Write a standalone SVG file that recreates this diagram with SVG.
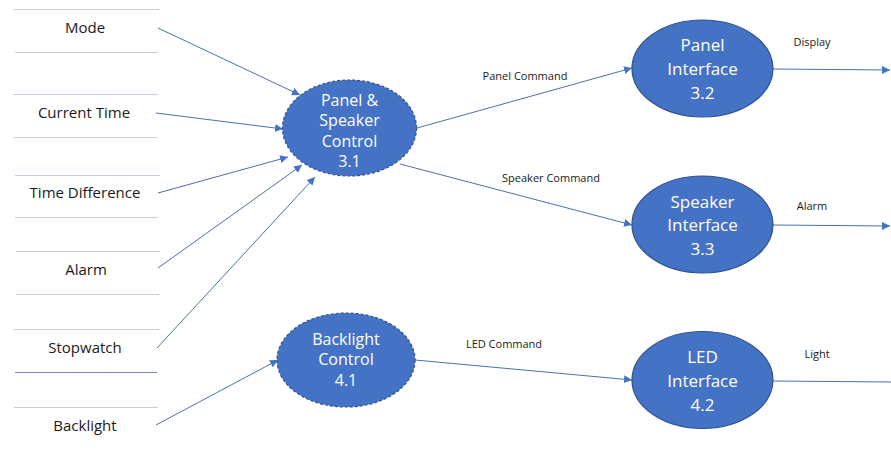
<svg xmlns="http://www.w3.org/2000/svg" width="891" height="450" viewBox="0 0 891 450">
  <style>
    .store { stroke: #c5cfe2; stroke-width: 1.2; }
    .store-dark { stroke: #6f8cc4; stroke-width: 1.2; }
    .src { font-family: "Open Sans", "Liberation Sans", sans-serif; font-size: 15px; fill: #1a1a1a; text-anchor: middle; }
    .proc { fill: #4472c4; stroke: #2f528f; stroke-width: 1.2; }
    .proc-dash { fill: #4472c4; stroke: #2f528f; stroke-width: 1.2; stroke-dasharray: 3 2; }
    .ptext { font-family: "Open Sans", "Liberation Sans", sans-serif; font-size: 16px; fill: #ffffff; text-anchor: middle; }
    .flow { stroke: #4a6fb5; stroke-width: 1; fill: none; }
    .flabel { font-family: "Open Sans", "Liberation Sans", sans-serif; font-size: 11px; fill: #1a1a1a; text-anchor: middle; }
  </style>
  <defs>
    <marker id="arrow" viewBox="0 0 10 10" refX="10" refY="5" markerWidth="8" markerHeight="8" markerUnits="userSpaceOnUse" orient="auto">
      <path d="M0,0 L10,5 L0,10 z" fill="#4472c4"/>
    </marker>
  </defs>
  <rect width="891" height="450" fill="#ffffff"/>

  <!-- external sources as store-style labels -->
  <g id="src-mode">
    <line class="store" x1="14" y1="9.5" x2="159" y2="9.5"/>
    <line class="store" x1="15" y1="52.5" x2="158" y2="52.5"/>
    <text class="src" x="85" y="33">Mode</text>
  </g>
  <g id="src-current-time">
    <line class="store" x1="13" y1="94.5" x2="158" y2="94.5"/>
    <line class="store" x1="14" y1="137.5" x2="157" y2="137.5"/>
    <text class="src" x="84" y="118">Current Time</text>
  </g>
  <g id="src-time-difference">
    <line class="store" x1="15" y1="175.5" x2="160" y2="175.5"/>
    <line class="store" x1="15" y1="217.5" x2="158" y2="217.5"/>
    <text class="src" x="85" y="198">Time Difference</text>
  </g>
  <g id="src-alarm">
    <line class="store" x1="16" y1="251.5" x2="160" y2="251.5"/>
    <line class="store" x1="16" y1="294.5" x2="159" y2="294.5"/>
    <text class="src" x="86" y="275">Alarm</text>
  </g>
  <g id="src-stopwatch">
    <line class="store" x1="14" y1="329.5" x2="159" y2="329.5"/>
    <line class="store-dark" x1="15" y1="372.5" x2="157" y2="372.5"/>
    <text class="src" x="85" y="353">Stopwatch</text>
  </g>
  <g id="src-backlight">
    <line class="store" x1="14" y1="407.5" x2="158" y2="407.5"/>
    <text class="src" x="85" y="431">Backlight</text>
  </g>

  <!-- connectors -->
  <g id="connectors">
    <line class="flow" x1="158" y1="28" x2="300" y2="95" marker-end="url(#arrow)"/>
    <line class="flow" x1="156" y1="113" x2="283" y2="129" marker-end="url(#arrow)"/>
    <line class="flow" x1="158" y1="193" x2="288" y2="157" marker-end="url(#arrow)"/>
    <line class="flow" x1="158" y1="268" x2="302" y2="165" marker-end="url(#arrow)"/>
    <line class="flow" x1="157" y1="348" x2="315" y2="177" marker-end="url(#arrow)"/>
    <line class="flow" x1="156" y1="425" x2="278" y2="360" marker-end="url(#arrow)"/>
    <line class="flow" x1="417" y1="128" x2="632" y2="68" marker-end="url(#arrow)"/>
    <line class="flow" x1="400" y1="164" x2="632" y2="225" marker-end="url(#arrow)"/>
    <line class="flow" x1="415" y1="360" x2="632" y2="380" marker-end="url(#arrow)"/>
    <line class="flow" x1="773" y1="69" x2="890" y2="70" marker-end="url(#arrow)"/>
    <line class="flow" x1="773" y1="225" x2="890" y2="226" marker-end="url(#arrow)"/>
    <line class="flow" x1="773" y1="381" x2="891" y2="382"/>
    <text class="flabel" x="525" y="80">Panel Command</text>
    <text class="flabel" x="551" y="182">Speaker Command</text>
    <text class="flabel" x="504" y="348">LED Command</text>
    <text class="flabel" x="812" y="46">Display</text>
    <text class="flabel" x="812" y="210">Alarm</text>
    <text class="flabel" x="817" y="358">Light</text>
  </g>

  <!-- processes -->
  <g id="p31">
    <ellipse class="proc-dash" cx="349.5" cy="128" rx="67" ry="48"/>
    <text class="ptext" x="349.5" y="106">Panel &amp;</text>
    <text class="ptext" x="349.5" y="126">Speaker</text>
    <text class="ptext" x="349.5" y="147">Control</text>
    <text class="ptext" x="349.5" y="167">3.1</text>
  </g>
  <g id="p41">
    <ellipse class="proc-dash" cx="346" cy="360" rx="69" ry="47"/>
    <text class="ptext" x="346" y="345">Backlight</text>
    <text class="ptext" x="346" y="365">Control</text>
    <text class="ptext" x="346" y="386">4.1</text>
  </g>
  <g id="p32">
    <ellipse class="proc" cx="702.5" cy="68.5" rx="70.5" ry="48.5"/>
    <text class="ptext" x="702.5" y="51" style="font-size:17px">Panel</text>
    <text class="ptext" x="702.5" y="75" style="font-size:17px">Interface</text>
    <text class="ptext" x="702.5" y="99" style="font-size:17px">3.2</text>
  </g>
  <g id="p33">
    <ellipse class="proc" cx="702.5" cy="224.5" rx="70.5" ry="48.5"/>
    <text class="ptext" x="702.5" y="208" style="font-size:17px">Speaker</text>
    <text class="ptext" x="702.5" y="231" style="font-size:17px">Interface</text>
    <text class="ptext" x="702.5" y="255" style="font-size:17px">3.3</text>
  </g>
  <g id="p42">
    <ellipse class="proc" cx="702.5" cy="380" rx="70.5" ry="48.5"/>
    <text class="ptext" x="702.5" y="363" style="font-size:17px">LED</text>
    <text class="ptext" x="702.5" y="387" style="font-size:17px">Interface</text>
    <text class="ptext" x="702.5" y="411" style="font-size:17px">4.2</text>
  </g>
</svg>
